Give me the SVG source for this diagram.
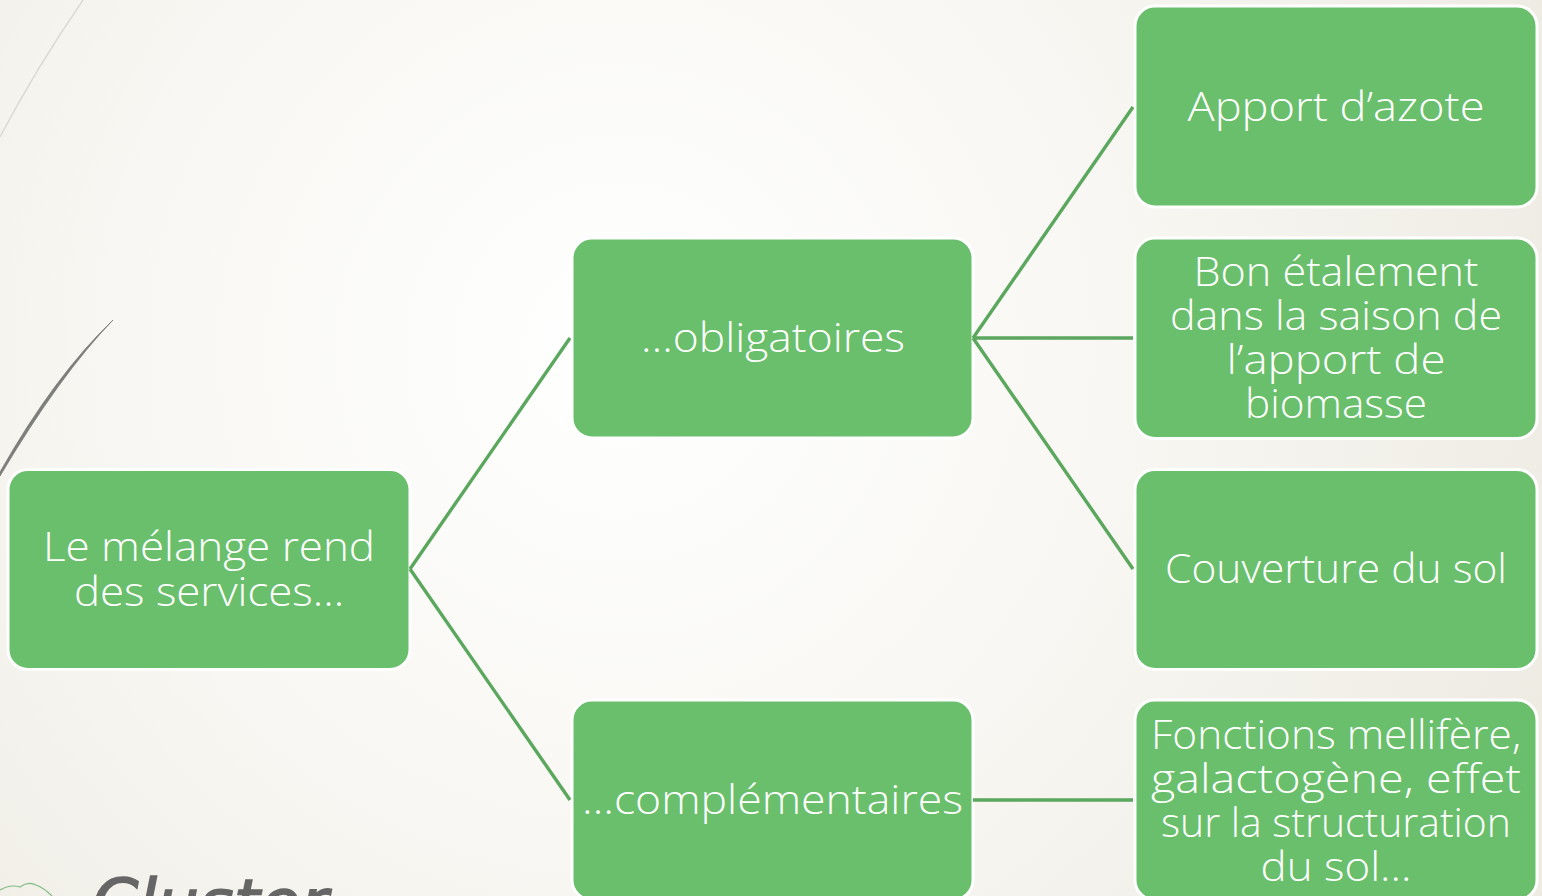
<svg xmlns="http://www.w3.org/2000/svg" width="1542" height="896" viewBox="0 0 1542 896">
<style>
.n{fill:#6abf6c;stroke:#fff;stroke-width:3}
.t{font-family:"Open Sans","Liberation Sans",sans-serif;font-weight:300;font-size:41px;fill:#fff;text-anchor:middle}
.c{fill:none;stroke:#5aa75d;stroke-width:3.4}
</style>
<defs>
<radialGradient id="bg" gradientUnits="userSpaceOnUse" cx="620" cy="350" r="1000">
<stop offset="0" stop-color="#ffffff"/>
<stop offset="0.5" stop-color="#f8f7f3"/>
<stop offset="1" stop-color="#edebe2"/>
</radialGradient>
</defs>
<rect width="1542" height="896" fill="url(#bg)"/>
<path d="M83 0Q35 70 0 137" fill="none" stroke="#d9d9d3" stroke-width="1.4"/>
<path d="M113 320Q60 375 0 476L0 472Q55 375 113 320Z" fill="#7d7d7b" stroke="#7d7d7b" stroke-width="0.8"/>
<path d="M0 890Q10 884 20 887Q28 881 36 885Q44 888 52 896" fill="none" stroke="#7fbb82" stroke-width="1.2"/>
<text x="92" y="925" font-family="'DejaVu Sans',sans-serif" font-style="italic" font-size="64" textLength="236" lengthAdjust="spacingAndGlyphs" stroke="#666" stroke-width="1.5" fill="#666">Cluster</text>
<g id="n1"><rect class="n" x="8" y="469.500" width="402" height="200" rx="20"/><text class="t" x="209" y="560.500" textLength="332" lengthAdjust="spacingAndGlyphs">Le mélange rend</text><text class="t" x="209" y="605.500" textLength="270" lengthAdjust="spacingAndGlyphs">des services…</text></g>
<g id="n2"><rect class="n" x="572" y="238" width="401" height="200" rx="20"/><text class="t" x="773" y="352" textLength="264" lengthAdjust="spacingAndGlyphs">…obligatoires</text></g>
<g id="n3"><rect class="n" x="572" y="700" width="401" height="200" rx="20"/><text class="t" x="772.500" y="814" textLength="381" lengthAdjust="spacingAndGlyphs">…complémentaires</text></g>
<g id="n4"><rect class="n" x="1135" y="6" width="402" height="201" rx="20"/><text class="t" x="1336" y="120.500" textLength="297" lengthAdjust="spacingAndGlyphs">Apport d’azote</text></g>
<g id="n5"><rect class="n" x="1135" y="238" width="402" height="200.500" rx="20"/><text class="t" x="1336" y="285.500" textLength="285" lengthAdjust="spacingAndGlyphs">Bon étalement</text><text class="t" x="1336" y="329.500" textLength="332" lengthAdjust="spacingAndGlyphs">dans la saison de</text><text class="t" x="1336" y="373.500" textLength="219" lengthAdjust="spacingAndGlyphs">l’apport de</text><text class="t" x="1336" y="417.500" textLength="182" lengthAdjust="spacingAndGlyphs">biomasse</text></g>
<g id="n6"><rect class="n" x="1135" y="469.500" width="402" height="200" rx="20"/><text class="t" x="1336" y="583" textLength="342" lengthAdjust="spacingAndGlyphs">Couverture du sol</text></g>
<g id="n7"><rect class="n" x="1135" y="700" width="402" height="200" rx="20"/><text class="t" x="1336" y="748.500" textLength="370" lengthAdjust="spacingAndGlyphs">Fonctions mellifère,</text><text class="t" x="1336" y="792.500" textLength="370" lengthAdjust="spacingAndGlyphs">galactogène, effet</text><text class="t" x="1336" y="836.500" textLength="350" lengthAdjust="spacingAndGlyphs">sur la structuration</text><text class="t" x="1336" y="880.500" textLength="151" lengthAdjust="spacingAndGlyphs">du sol…</text></g>
<g id="connectors">
<path class="c" d="M410 569L570 338M410 569L570 800M973 338L1133 107M973 338L1133 338M973 338L1133 569M973 800L1133 800"/>
</g>
</svg>
